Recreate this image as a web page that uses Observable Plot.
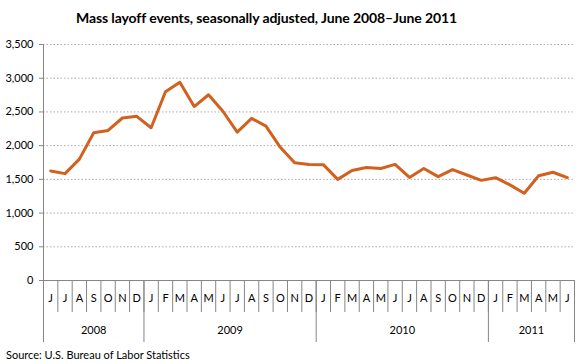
<!DOCTYPE html>
<html><head><meta charset="utf-8">
<script src="https://cdn.jsdelivr.net/npm/d3@7"></script>
<script src="https://cdn.jsdelivr.net/npm/@observablehq/plot@0.6"></script>
<style>
body{margin:0;background:#fff;font-family:Lato,"Open Sans",sans-serif;}
#title{height:30px;line-height:36px;text-align:left;padding-left:76px;font-weight:bold;font-size:14px;color:#000;letter-spacing:-0.1px;}
#source{font-size:11px;padding-left:6px;line-height:20px;color:#000;}
</style></head><body>
<div id="title">Mass layoff events, seasonally adjusted, June 2008–June 2011</div>
<div id="chart"></div>
<div id="source">Source: U.S. Bureau of Labor Statistics</div>
<script>
const months = ["J","J","A","S","O","N","D",
  "J","F","M","A","M","J","J","A","S","O","N","D",
  "J","F","M","A","M","J","J","A","S","O","N","D",
  "J","F","M","A","M","J"];
const values = [1625,1585,1800,2190,2225,2410,2435,
  2265,2800,2940,2580,2755,2510,2200,2405,2290,1975,1745,1722,
  1718,1500,1630,1675,1662,1722,1528,1662,1540,1645,1565,1485,
  1525,1418,1295,1553,1605,1525];
const years = ["2008","2009","2010","2011"];
const monthsPerYear = [7,12,12,6];
const yTicks = [0,500,1000,1500,2000,2500,3000,3500];

const data = values.map((v,i)=>({i, v, m: months[i]}));
const bounds = [0];
monthsPerYear.forEach(n => bounds.push(bounds[bounds.length-1]+n));
const yearData = years.map((y,k)=>({y, x:(bounds[k]+bounds[k+1])/2}));
const monthTicks = d3.range(months.length+1);

const chart = Plot.plot({
  width: 580, height: 315,
  marginTop: 14, marginBottom: 65, marginLeft: 43, marginRight: 6,
  style: {fontFamily: "Lato, 'Open Sans', sans-serif", fontSize: "11px", color: "#000", background: "#fff"},
  x: {domain: [0, months.length]},
  y: {domain: [0, 3500]},
  marks: [
    Plot.gridY(yTicks, {stroke: "#aaa", strokeOpacity: 1, strokeDasharray: "1.5,2", strokeWidth: 1}),
    Plot.axisY({ticks: yTicks, tickFormat: d3.format(","), tickSize: 4, tickPadding: 6, stroke: "#868686", label: null}),
    Plot.ruleX([0], {stroke: "#868686"}),
    Plot.ruleY([0], {stroke: "#868686"}),
    Plot.axisX({ticks: monthTicks, tickSize: 32, tickFormat: () => "", stroke: "#868686", label: null}),
    Plot.axisX({ticks: bounds, tickSize: 62, tickFormat: () => "", stroke: "#868686", label: null}),
    Plot.text(data, {x: d => d.i + 0.5, y: () => 0, text: "m", dy: 18, fill: "#000"}),
    Plot.text(yearData, {x: "x", y: () => 0, text: "y", dy: 50, fill: "#000"}),
    Plot.line(data, {x: d => d.i + 0.5, y: "v", stroke: "#D2601E", strokeWidth: 3, strokeLinejoin: "round"})
  ]
});
document.getElementById("chart").appendChild(chart);
</script>
</body></html>
